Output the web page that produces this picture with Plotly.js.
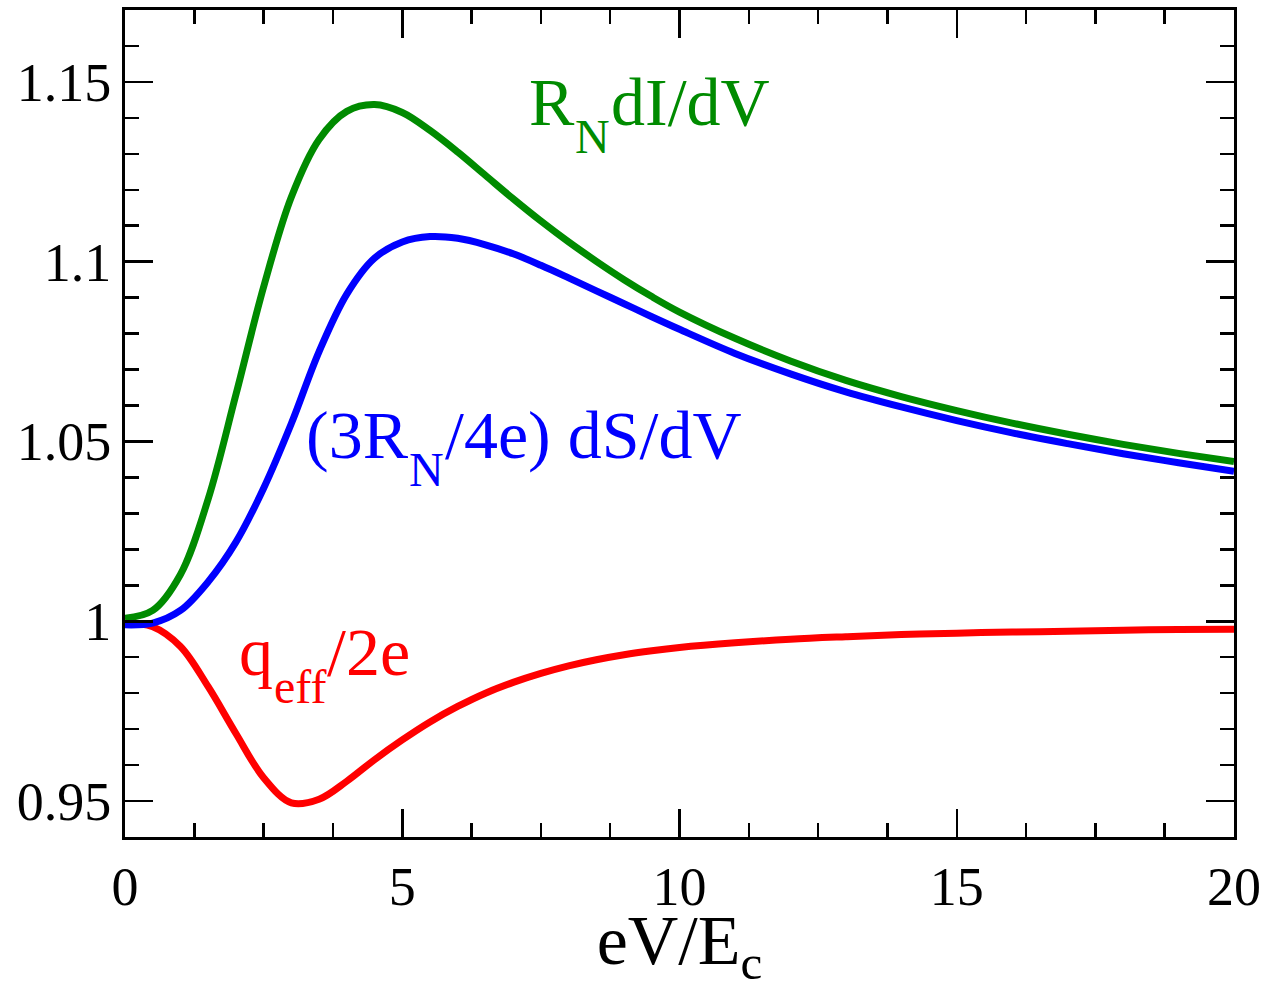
<!DOCTYPE html>
<html>
<head>
<meta charset="utf-8">
<script src="https://cdn.plot.ly/plotly-3.0.1.min.js"></script>
<style>html,body{margin:0;padding:0;background:#fff;}#plot{width:1285px;height:990px;}</style>
</head>
<body>
<div id="plot"></div>
<script>
// eV/Ec sample points
const xVals = [0, 0.5, 1, 1.5, 2, 2.5, 3, 3.5, 4, 4.5, 5, 5.5, 6, 6.5, 7, 7.5, 8, 8.5, 9, 9.5, 10, 11, 12, 13, 14, 15, 16, 17, 18, 19, 20];
// R_N dI/dV
const greenVals = [1.0008, 1.003, 1.013, 1.034, 1.063, 1.093, 1.118, 1.134, 1.1418, 1.1437, 1.1415, 1.1365, 1.1305, 1.124, 1.1175, 1.1113, 1.1055, 1.1001, 1.095, 1.0903, 1.086, 1.0787, 1.0724, 1.067, 1.0625, 1.0586, 1.0551, 1.052, 1.0492, 1.0467, 1.0444];
// (3R_N/4e) dS/dV
const blueVals = [0.999, 0.9995, 1.003, 1.011, 1.022, 1.037, 1.055, 1.075, 1.091, 1.101, 1.1055, 1.107, 1.1065, 1.1047, 1.1022, 1.099, 1.0955, 1.0919, 1.0883, 1.0847, 1.0812, 1.0745, 1.0688, 1.0638, 1.0596, 1.0558, 1.0524, 1.0494, 1.0466, 1.0441, 1.0417];
// q_eff/2e
const redVals = [0.9995, 0.9985, 0.993, 0.9818, 0.9688, 0.9565, 0.9495, 0.9505, 0.9555, 0.9615, 0.967, 0.972, 0.9763, 0.98, 0.983, 0.9855, 0.9876, 0.9893, 0.9907, 0.9918, 0.9927, 0.994, 0.995, 0.9957, 0.9963, 0.9967, 0.997, 0.9972, 0.9975, 0.9977, 0.9978];

const xTickVals = [0, 5, 10, 15, 20];
const xTickText = ['0', '5', '10', '15', '20'];
const yTickVals = [0.95, 1, 1.05, 1.1, 1.15];
const yTickText = ['0.95', '1', '1.05', '1.1', '1.15'];

// curve labels: pieces of text, subscripts flagged
const greenLabel = [{t: 'R'}, {t: 'N', sub: true}, {t: 'dI/dV'}];
const blueLabel = [{t: '(3R'}, {t: 'N', sub: true}, {t: '/4e) dS/dV'}];
const redLabel = [{t: 'q'}, {t: 'eff', sub: true}, {t: '/2e'}];

const font = 'Liberation Serif, Times New Roman, serif';
const lw = 7;

const traces = [
  {x: xVals, y: redVals, mode: 'lines', line: {color: '#ff0000', width: lw, shape: 'spline'}},
  {x: xVals, y: blueVals, mode: 'lines', line: {color: '#0000ff', width: lw, shape: 'spline'}},
  {x: xVals, y: greenVals, mode: 'lines', line: {color: '#008b00', width: lw, shape: 'spline'}}
];

const M = {l: 125, r: 51, t: 10, b: 153};
const pw = 1285 - M.l - M.r, ph = 990 - M.t - M.b;

const canvas = document.createElement('canvas');
const ctx = canvas.getContext('2d');
function textWidth(t, size) {
  ctx.font = size + 'px "Liberation Serif"';
  return ctx.measureText(t).width;
}

function buildLabel(pieces, startPx, baselinePx, color) {
  const main = 68, sub = 48, drop = 28;
  let x = startPx;
  const out = [];
  pieces.forEach(p => {
    const size = p.sub ? sub : main;
    const base = p.sub ? baselinePx + drop : baselinePx;
    const mid = base - 0.3375 * size;
    out.push({
      xref: 'paper', yref: 'paper', x: (x - M.l) / pw, y: 1 - (mid - M.t) / ph,
      xanchor: 'left', yanchor: 'middle', showarrow: false, borderpad: 0,
      text: p.t, font: {family: font, size: size, color: color}
    });
    x += textWidth(p.t, size) + 1;
  });
  return out;
}

const annotations = [].concat(
  buildLabel(greenLabel, 528, 125, '#008b00'),
  buildLabel(blueLabel, 305, 458, '#0000ff'),
  buildLabel(redLabel, 238, 675, '#ff0000')
);

const layout = {
  width: 1285, height: 990,
  margin: M,
  paper_bgcolor: '#fff', plot_bgcolor: '#fff',
  showlegend: false,
  font: {family: font, color: '#000', size: 54},
  xaxis: {
    range: [0, 20], tickmode: 'array', tickvals: xTickVals, ticktext: xTickText,
    ticks: 'inside', ticklen: 28, tickwidth: 2.5, tickcolor: '#000',
    showline: true, linewidth: 3, linecolor: '#000', mirror: 'ticks',
    showgrid: false, zeroline: false,
    tickfont: {family: font, size: 54, color: '#000'},
    minor: {tick0: 0, dtick: 1.25, ticks: 'inside', ticklen: 14, tickwidth: 2.5, tickcolor: '#000', showgrid: false},
    title: {text: 'eV/E<sub>c</sub>', font: {family: font, size: 70, color: '#000'}, standoff: 14}
  },
  yaxis: {
    range: [0.94, 1.17], tickmode: 'array', tickvals: yTickVals, ticktext: yTickText,
    ticks: 'inside', ticklen: 28, tickwidth: 2.5, tickcolor: '#000',
    showline: true, linewidth: 3, linecolor: '#000', mirror: 'ticks',
    showgrid: false, zeroline: false,
    tickfont: {family: font, size: 54, color: '#000'},
    minor: {tick0: 0.94, dtick: 0.01, ticks: 'inside', ticklen: 14, tickwidth: 2.5, tickcolor: '#000', showgrid: false}
  },
  annotations: annotations
};

Plotly.newPlot('plot', traces, layout, {staticPlot: true});
</script>
</body>
</html>
